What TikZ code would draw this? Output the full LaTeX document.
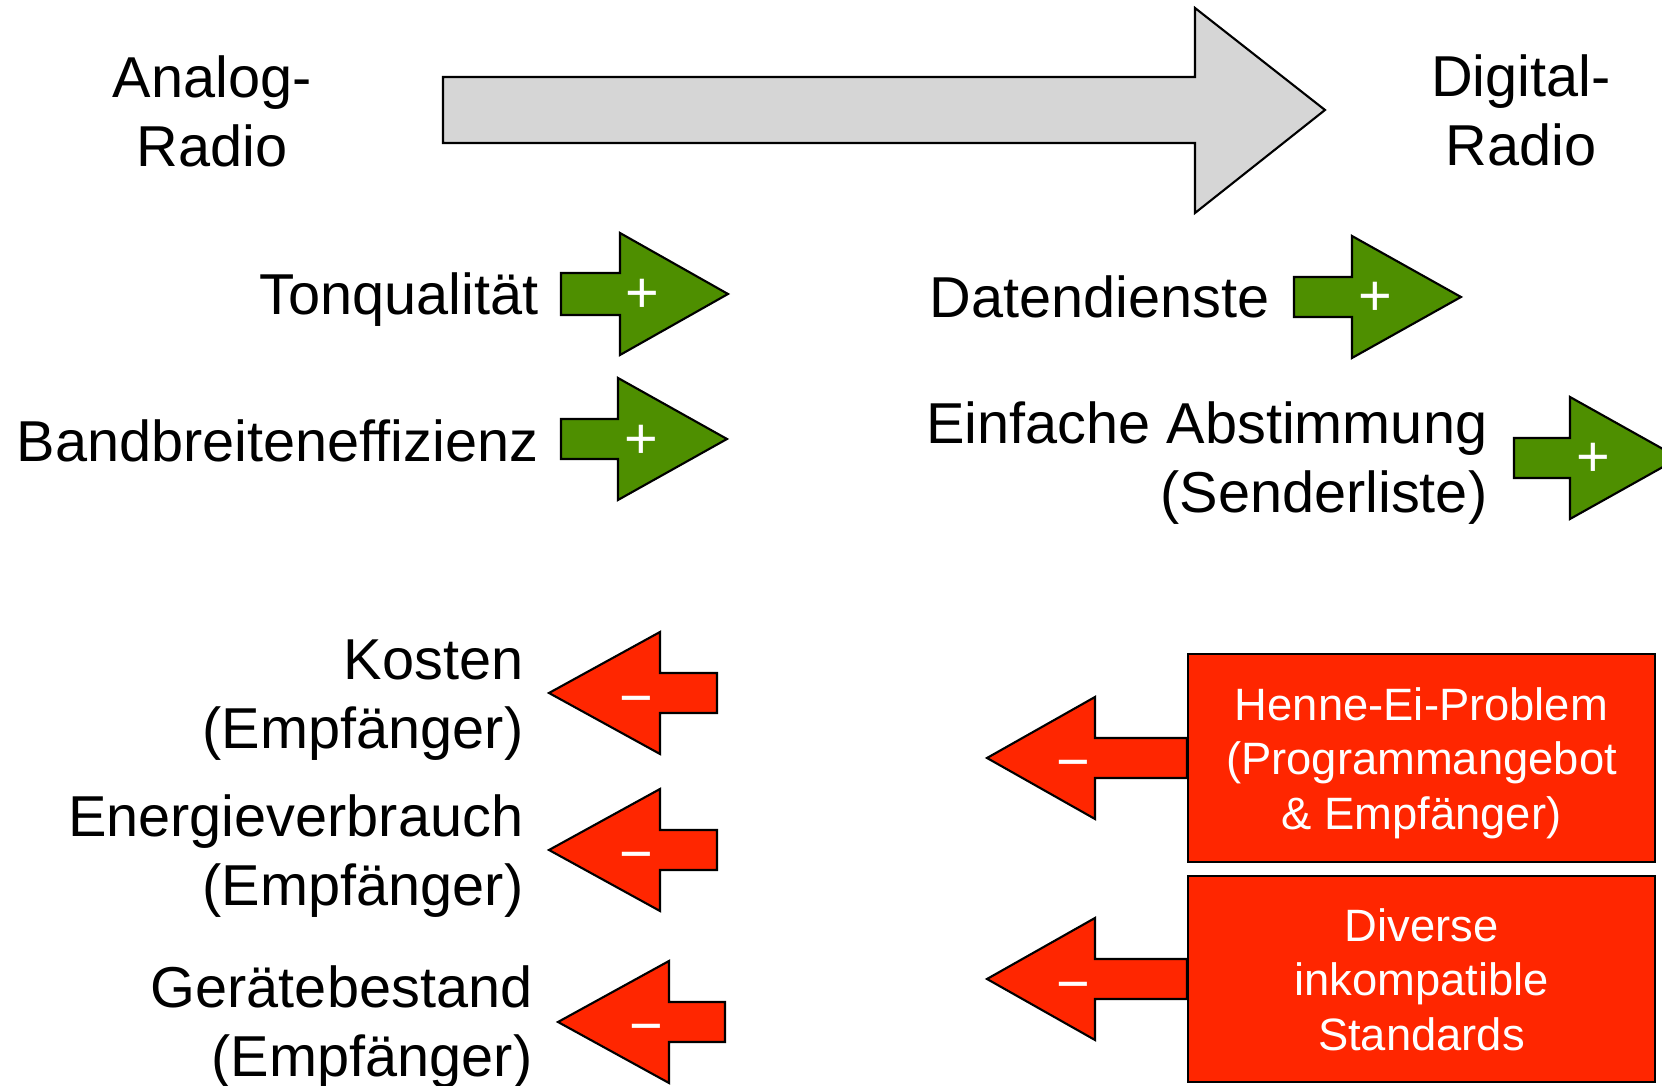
\documentclass[tikz,border=0pt]{standalone}
\usepackage{fontspec}
\setmainfont{Liberation Sans}
\definecolor{keygreen}{RGB}{78,143,0}
\definecolor{keyred}{RGB}{255,38,0}
\definecolor{keygray}{RGB}{214,214,214}
\tikzset{
  main arrow/.style={
    fill=keygray,
    draw=black,
    line width=0.6pt
  },
  plus arrow/.style={
    fill=keygreen,
    draw=black,
    line width=0.6pt
  },
  minus arrow/.style={
    fill=keyred,
    draw=black,
    line width=0.6pt
  },
  item text/.style={
    font=\fontsize{16.4}{19.9}\selectfont,
    align=right,
    inner sep=0pt
  },
  title text/.style={
    font=\fontsize{16.4}{19.9}\selectfont,
    align=center,
    inner sep=0pt
  },
  sign/.style={
    text=white,
    font=\fontsize{16.4}{19.9}\selectfont,
    inner sep=0pt,
    text height=11.7pt,
    text depth=0pt
  },
  problem box/.style={
    rectangle,
    fill=keyred,
    draw=black,
    line width=0.6pt,
    text=white,
    align=center,
    font=\fontsize{12.9}{15.4}\selectfont,
    minimum width=4.67cm,
    inner sep=0pt,
    text height=1.42cm,
    text depth=0cm
  }
}
\begin{document}
\begin{tikzpicture}[x=0.01cm, y=-0.01cm]
    \clip (0,0) rectangle (1662,1086);

    % Übergang analog -> digital (base = letzte Zeile)
    \filldraw[main arrow] (443,77) -- (1195,77) -- (1195,8) -- (1325,110) -- (1195,213) -- (1195,143) -- (443,143) -- cycle;
    \node[title text, anchor=base] (analog) at (212,167) {Analog-\\Radio};
    \node[title text, anchor=base] (digital) at (1521,166) {Digital-\\Radio};

    % Vorteile analog
    \node[item text, anchor=base east] (ton) at (539,315) {Tonqualität};
    \filldraw[plus arrow] (561,273) -- (620,273) -- (620,233) -- (728,294) -- (620,355) -- (620,315) -- (561,315) -- cycle;
    \node[sign] (tonplus) at (642,292) {+};

    \node[item text, anchor=base east] (band) at (539,462) {Bandbreiteneffizienz};
    \filldraw[plus arrow] (561,419) -- (618,419) -- (618,378) -- (727,439) -- (618,500) -- (618,459) -- (561,459) -- cycle;
    \node[sign] (bandplus) at (641,438) {+};

    % Vorteile digital
    \node[item text, anchor=base west] (daten) at (929,318) {Datendienste};
    \filldraw[plus arrow] (1294,277) -- (1352,277) -- (1352,236) -- (1461,297) -- (1352,358) -- (1352,317) -- (1294,317) -- cycle;
    \node[sign] (datenplus) at (1375,295) {+};

    \node[item text, anchor=base east] (einfach) at (1488,513) {Einfache Abstimmung\\(Senderliste)};
    \filldraw[plus arrow] (1514,438) -- (1570,438) -- (1570,397) -- (1679,458) -- (1570,519) -- (1570,478) -- (1514,478) -- cycle;
    \node[sign] (einfachplus) at (1593,456) {+};

    % Nachteile digital
    \node[item text, anchor=base east] (kosten) at (524,749) {Kosten\\(Empfänger)};
    \filldraw[minus arrow] (549,693) -- (660,632) -- (660,673) -- (717,673) -- (717,713) -- (660,713) -- (660,754) -- cycle;
    \node[sign] (kostenminus) at (636,697) {−};

    \node[item text, anchor=base east] (energie) at (524,906) {Energieverbrauch\\(Empfänger)};
    \filldraw[minus arrow] (549,850) -- (660,789) -- (660,830) -- (717,830) -- (717,870) -- (660,870) -- (660,911) -- cycle;
    \node[sign] (energieminus) at (636,853) {−};

    \node[item text, anchor=base east] (bestand) at (533,1077) {Gerätebestand\\(Empfänger)};
    \filldraw[minus arrow] (558,1022) -- (669,961) -- (669,1002) -- (725,1002) -- (725,1042) -- (669,1042) -- (669,1083) -- cycle;
    \node[sign] (bestandminus) at (646,1025) {−};

    % Probleme der Einführung
    \node[problem box, minimum height=2.08cm] (henne) at (1421.5,758) {Henne-Ei-Problem\\(Programmangebot\\\& Empfänger)};
    \filldraw[minus arrow] (henne.west) ++(0,-20) -- (1095,738) -- (1095,697) -- (987,758) -- (1095,819) -- (1095,778) -- ([yshift=-0.2cm]henne.west) -- cycle;
    \node[sign] (henneminus) at (1073,761) {−};

    \node[problem box, minimum height=2.06cm] (diverse) at (1421.5,979) {Diverse\\inkompatible\\Standards};
    \filldraw[minus arrow] (diverse.west) ++(0,-20) -- (1095,959) -- (1095,918) -- (987,979) -- (1095,1040) -- (1095,999) -- ([yshift=-0.2cm]diverse.west) -- cycle;
    \node[sign] (diverseminus) at (1073,983) {−};

\end{tikzpicture}
\end{document}
